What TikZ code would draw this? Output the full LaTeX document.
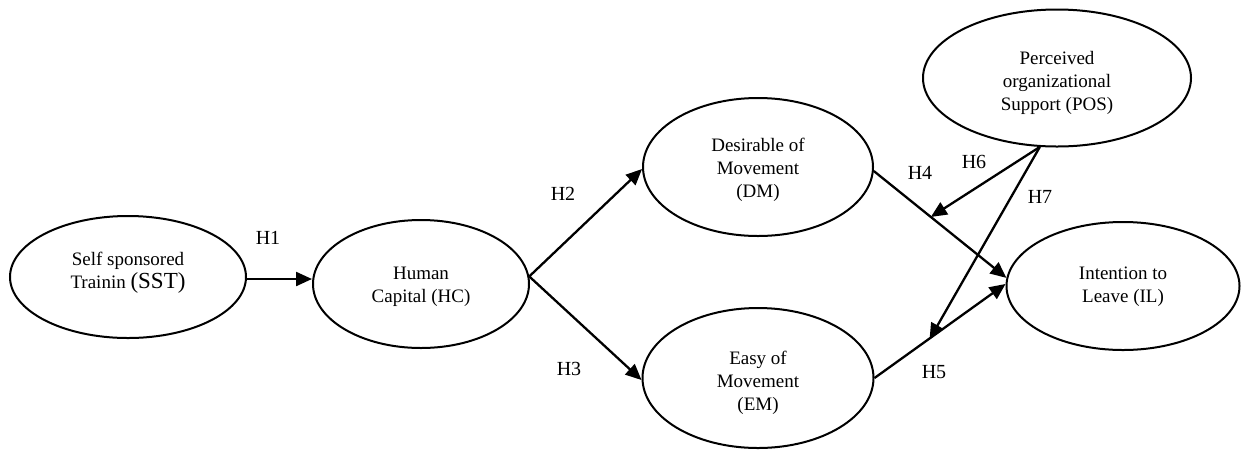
\documentclass[tikz,border=0pt]{standalone}
\usepackage{fontspec}
\setmainfont{Liberation Serif}
\usetikzlibrary{arrows.meta,calc,shapes.geometric}
\begin{document}
\begin{tikzpicture}[x=1pt,y=-1pt,
  oval/.style={ellipse, draw, line width=2pt, inner sep=0pt},
  txt/.style={align=center, font=\fontsize{19}{23}\selectfont, inner sep=0pt},
  hl/.style={font=\fontsize{20}{24}\selectfont, inner sep=0pt},
  conn/.style={line width=2.3pt, -{Triangle[length=16pt,width=14pt]}}]
\useasboundingbox (0,0) rectangle (1242,451);
\node[oval, minimum width=236, minimum height=122,
  label={[txt,yshift=4pt]center:{Self sponsored\\Trainin {\fontsize{23}{23}\selectfont(SST)}}}] (sst) at (128,277) {};
\node[oval, minimum width=216, minimum height=128,
  label={[txt,yshift=-3pt]center:{Human\\Capital (HC)}}] (hc) at (421,284) {};
\node[oval, minimum width=230, minimum height=138,
  label={[txt,yshift=-3pt]center:{Desirable of\\Movement\\(DM)}}] (dm) at (758,167) {};
\node[oval, minimum width=231, minimum height=140,
  label={[txt,yshift=-5pt]center:{Easy of\\Movement\\(EM)}}] (em) at (758,378) {};
\node[oval, minimum width=268, minimum height=137,
  label={[txt,yshift=-5pt]center:{Perceived\\organizational\\Support (POS)}}] (pos) at (1057,78) {};
\node[oval, minimum width=233, minimum height=128,
  label={[txt,yshift=-1pt]center:{Intention to\\Leave (IL)}}] (il) at (1123,286) {};

\coordinate (h6e) at ($(dm.-2)!0.43!(il.176)$);
\coordinate (h7e) at ($(em.east)!0.42!(il.west)$);

\draw[conn] (sst.east |- 0,279) -- (hc.west |- 0,279);
\draw[conn] (hc.4) -- (dm.181);
\draw[conn] (hc.4) -- (em.181);
\draw[conn] (dm.-2) -- (il.176);
\draw[conn] (em.east) -- (il.179);
\draw[conn] (pos.-104) -- (h6e);
\draw[conn] (pos.-104) -- (h7e);

\node[hl] (h1) at (268,238) {H1};
\node[hl] (h2) at (563,194) {H2};
\node[hl] (h3) at (569,369) {H3};
\node[hl] (h4) at (920,173) {H4};
\node[hl] (h5) at (934,372) {H5};
\node[hl] (h6) at (974,162) {H6};
\node[hl] (h7) at (1040,197) {H7};
\end{tikzpicture}
\end{document}
